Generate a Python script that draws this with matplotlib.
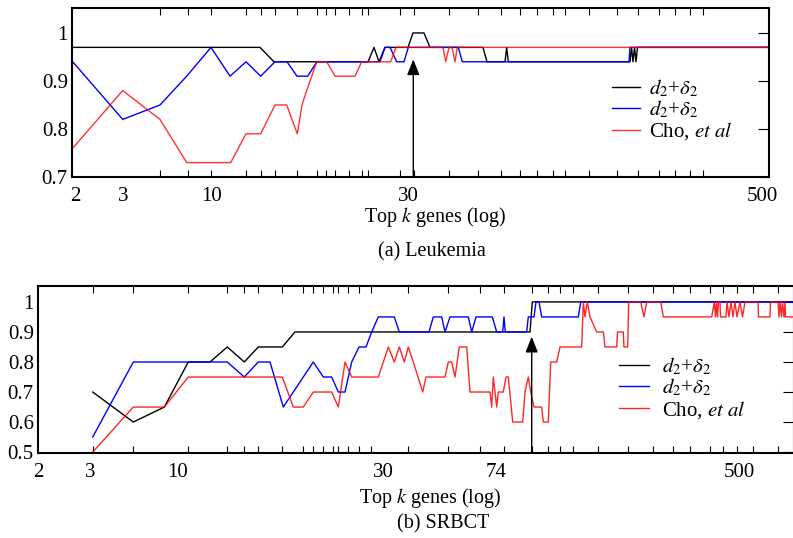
import matplotlib
matplotlib.use('Agg')
import matplotlib.pyplot as plt
import numpy as np

plt.rcParams['font.family'] = ['Liberation Serif', 'DejaVu Serif']
plt.rcParams['mathtext.fontset'] = 'stix'

# x values are positions along the (non-uniform) "log" rank axis
# ---- (a) Leukemia ----
leu_black_x = [72.7, 260, 274, 368, 374, 379, 385, 408, 413, 424, 430, 483, 487, 505, 506.7, 508.3,
               630, 631.5, 633, 634.5, 636, 637.5, 769]
leu_black_y = [0.97, 0.97, 0.94, 0.94, 0.97, 0.94, 0.97, 0.97, 1.0, 1.0, 0.97, 0.97, 0.94, 0.94, 0.97, 0.94,
               0.94, 0.97, 0.94, 0.97, 0.94, 0.97, 0.97]
leu_blue_x = [72.7, 122.7, 160, 186.7, 211, 230, 246, 260.7, 275, 287, 297, 307.7, 317, 380, 385, 390,
              396.7, 404, 408.3, 458.3, 462.3, 629, 630, 769]
leu_blue_y = [0.94, 0.82, 0.85, 0.91, 0.97, 0.91, 0.94, 0.91, 0.94, 0.94, 0.91, 0.91, 0.94, 0.94, 0.97, 0.97,
              0.94, 0.94, 0.97, 0.97, 0.94, 0.94, 0.97, 0.97]
leu_red_x = [72.7, 122.7, 160, 186.7, 230.7, 246, 260.7, 275, 286.7, 297.3, 302, 306.7, 316.7, 326.7, 335,
             355, 361.7, 390.7, 396, 443, 445.7, 449, 452, 455, 457.3, 769]
leu_red_y = [0.76, 0.88, 0.82, 0.73, 0.73, 0.79, 0.79, 0.85, 0.85, 0.79, 0.85, 0.88, 0.94, 0.94, 0.91,
             0.91, 0.94, 0.94, 0.97, 0.97, 0.94, 0.97, 0.97, 0.94, 0.97, 0.97]
leu_ticklabels = ['2', '3', '10', '30', '500']
leu_tickpos = [75, 122.7, 212, 408, 762]
leu_minor = [122.7, 160, 188, 211, 246, 260.7, 275, 297, 316.7, 326, 335, 349, 361.7, 368.3, 400, 414,
             449, 477.7, 501, 520, 537.3, 553.3, 565, 589, 616.7, 638.3, 659, 675, 690, 703.3]
leu_arrow_x = 413.3

# ---- (b) SRBCT ----
srb_black_x = [92.7, 133.3, 164.3, 188.3, 210, 227.3, 244.3, 258.3, 282.3, 295, 530, 532.3, 794]
srb_black_y = [0.70, 0.60, 0.65, 0.80, 0.80, 0.85, 0.80, 0.85, 0.85, 0.90, 0.90, 1.0, 1.0]
srb_blue_x = [92.7, 133.3, 227.3, 244.3, 258.3, 270, 283.3, 313.3, 323.3, 331.7, 338.3, 345, 351.7, 359,
              366, 371.7, 378.3, 394.3, 399.3, 429, 433.3, 441.7, 445, 450, 468.3, 471.7, 476, 492.3,
              496.7, 502.7, 504, 505.3, 526.7, 528.3, 534, 536, 539, 541.7, 578.3, 580.7, 794]
srb_blue_y = [0.55, 0.80, 0.80, 0.75, 0.80, 0.80, 0.65, 0.80, 0.75, 0.75, 0.70, 0.70, 0.80, 0.85,
              0.85, 0.90, 0.95, 0.95, 0.90, 0.90, 0.95, 0.95, 0.90, 0.95, 0.95, 0.90, 0.95, 0.95,
              0.90, 0.90, 0.95, 0.90, 0.90, 0.95, 0.95, 1.0, 1.0, 0.95, 0.95, 1.0, 1.0]
srb_red_x = [92.7, 133.3, 164.3, 188.3, 282.3, 293.3, 303.3, 313.3, 331.7, 338.3, 345, 351.7, 378.3,
             388.3, 394.3, 399.3, 404.3, 408.3, 413.3, 422.7, 426, 445, 448.3, 451.7, 455, 459.3,
             466.7, 470, 490, 491.7, 493.3, 496.7, 498.3, 503.3, 506, 508.3, 512.7, 522.7, 525, 528.3,
             530.7, 534, 541.7, 543.3, 548.3, 550.7, 556.7, 560, 581.7, 583.3, 585, 587.3, 590, 596.7,
             603.3, 605, 616.7, 617.5, 623.3, 624, 627.7, 628.7, 640.7, 644, 646.7, 660.7, 663.3,
             711.7, 714.3, 715.5, 716.5, 717.5, 718.5, 720, 720.5, 726, 727, 729, 731, 733, 735, 737,
             740, 742.5, 745, 748, 758, 758.5, 770, 770.5, 778, 779, 780, 781.5, 782.5, 784, 785,
             785.5, 794]
srb_red_y = [0.50, 0.65, 0.65, 0.75, 0.75, 0.65, 0.65, 0.70, 0.70, 0.65, 0.80, 0.75, 0.75,
             0.85, 0.80, 0.85, 0.80, 0.85, 0.80, 0.70, 0.75, 0.75, 0.80, 0.80, 0.75, 0.85,
             0.85, 0.70, 0.70, 0.65, 0.75, 0.65, 0.70, 0.70, 0.75, 0.75, 0.60, 0.60, 0.70, 0.75,
             0.70, 0.65, 0.65, 0.60, 0.60, 0.80, 0.80, 0.85, 0.85, 1.0, 0.95, 1.0, 0.95, 0.90,
             0.90, 0.85, 0.85, 0.90, 0.90, 0.85, 0.85, 1.0, 1.0, 0.95, 1.0, 1.0, 0.95,
             0.95, 1.0, 0.95, 1.0, 0.95, 1.0, 1.0, 0.95, 0.95, 1.0, 0.95, 1.0, 0.95, 1.0, 0.95,
             1.0, 0.95, 1.0, 1.0, 1.0, 0.95, 0.95, 1.0, 1.0, 0.95, 1.0, 0.95, 1.0, 0.95, 1.0,
             0.95, 0.95]
srb_ticklabels = ['2', '3', '10', '30', '74', '500']
srb_tickpos = [38, 90, 178, 383, 496.5, 739]
srb_minor = [92.7, 133.3, 188.3, 227.3, 244.3, 258.3, 282.3, 303.3, 313.3, 323.3, 333, 338.3, 348, 359,
             371, 408.3, 448.3, 480, 504, 531.7, 548, 560, 573.3, 598.3, 628.3, 653.3, 673.3, 690, 710,
             723.3, 737, 753.3, 778.3]
srb_arrow_x = 531.7

labels = [r'$d_2$+$\delta_2$', r'$d_2$+$\delta_2$', r'Cho, $\mathit{et\ al}$']

fig = plt.figure(figsize=(7.93, 5.38), dpi=100)
W, H = 793.0, 538.0
ax1 = fig.add_axes([72 / W, 1 - 177 / H, (769 - 72) / W, (177 - 8) / H])
ax2 = fig.add_axes([38 / W, 1 - 453 / H, (794 - 38) / W, (453 - 286) / H])

def style(ax, xlim, ylim, yticks, ylabels, tickpos, ticklabels, minor):
    ax.set_xlim(*xlim)
    ax.set_ylim(*ylim)
    ax.set_yticks(yticks)
    ax.set_yticklabels(ylabels)
    ax.set_xticks(tickpos)
    ax.set_xticklabels(ticklabels)
    ax.set_xticks(minor, minor=True)
    ax.tick_params(axis='x', which='major', length=0, pad=7, labelsize=15)
    ax.tick_params(axis='x', which='minor', direction='in', length=5, width=0.8, top=True, bottom=True)
    ax.tick_params(axis='y', left=False, right=True, direction='in', length=8, width=0.8, pad=3,
                   labelsize=15)
    for s in ax.spines.values():
        s.set_linewidth(1.5)

# (a)
ax1.plot(leu_black_x, leu_black_y, color='black', lw=1.0, label=labels[0])
ax1.plot(leu_blue_x, leu_blue_y, color='#0000ff', lw=1.0, label=labels[1])
ax1.plot(leu_red_x, leu_red_y, color='#ff0000', lw=1.0, alpha=0.8, label=labels[2])
ax1.annotate('', xy=(leu_arrow_x, 0.945), xytext=(leu_arrow_x, 0.7),
             arrowprops=dict(arrowstyle='-|>,head_length=0.95,head_width=0.38', color='black',
                             lw=1.0, shrinkA=0, shrinkB=0))
style(ax1, (72, 769), (0.7, 1.052), [0.7, 0.8, 0.9, 1.0], ['0.7', '0.8', '0.9', '1'],
      leu_tickpos, leu_ticklabels, leu_minor)
ax1.legend(loc='upper left', bbox_to_anchor=(608 / W, 1 - 73 / H), bbox_transform=fig.transFigure,
           frameon=False, fontsize=15, labelspacing=0.0, handlelength=1.35, handletextpad=0.43,
           borderpad=0.2, borderaxespad=0)

# (b)
ax2.plot(srb_black_x, srb_black_y, color='black', lw=1.0, label=labels[0])
ax2.plot(srb_blue_x, srb_blue_y, color='#0000ff', lw=1.0, label=labels[1])
ax2.plot(srb_red_x, srb_red_y, color='#ff0000', lw=1.0, alpha=0.85, label=labels[2])
ax2.annotate('', xy=(srb_arrow_x, 0.884), xytext=(srb_arrow_x, 0.497),
             arrowprops=dict(arrowstyle='-|>,head_length=0.95,head_width=0.38', color='black',
                             lw=1.0, shrinkA=0, shrinkB=0))
style(ax2, (38, 794), (0.497, 1.053), [0.5, 0.6, 0.7, 0.8, 0.9, 1.0],
      ['0.5', '0.6', '0.7', '0.8', '0.9', '1'], srb_tickpos, srb_ticklabels, srb_minor)
leg = ax2.legend(loc='upper left', bbox_to_anchor=(613 / W, 1 - 349 / H), bbox_transform=fig.transFigure,
                 frameon=True, fontsize=15, labelspacing=0.0, handlelength=1.45, handletextpad=0.6,
                 borderpad=0.3, borderaxespad=0, fancybox=False)
leg.get_frame().set_facecolor('white')
leg.get_frame().set_edgecolor('none')
leg.get_frame().set_alpha(1)

fig.text(435 / W, 1 - 217 / H, r'Top $\mathit{k}$ genes (log)', ha='center', va='center', fontsize=14.5)
fig.text(432 / W, 1 - 252 / H, '(a) Leukemia', ha='center', va='center', fontsize=14.5)
fig.text(430 / W, 1 - 498 / H, r'Top $\mathit{k}$ genes (log)', ha='center', va='center', fontsize=14.5)
fig.text(443 / W, 1 - 524 / H, '(b) SRBCT', ha='center', va='center', fontsize=14.5)

fig.savefig('out.png', dpi=100)
